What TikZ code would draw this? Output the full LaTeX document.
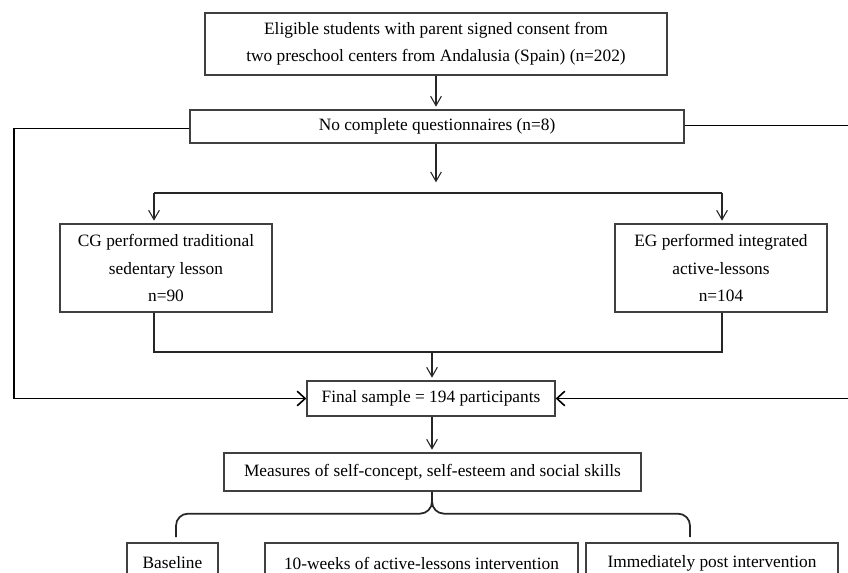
\documentclass[tikz,border=0pt]{standalone}
\usepackage{fontspec}
\setmainfont{Liberation Serif}
\usetikzlibrary{arrows.meta, positioning, calc}

\begin{document}
\begin{tikzpicture}[
    x=0.75pt, y=-0.75pt,
    flowbox/.style={rectangle, draw=black!75, line width=1pt, fill=white,
        align=center, inner sep=2pt, font=\fontsize{13pt}{20.5pt}\selectfont},
    arr/.style={-{Straight Barb[length=7pt, width=8pt]}, line width=0.8pt, draw=black!85, shorten >=2pt},
    link/.style={line width=1.2pt, draw=black!85},
    sidearr/.style={-{Straight Barb[length=6pt, width=11pt, line width=1.2pt]}, line width=1.4pt, draw=black},
    bracebar/.style={line width=1.3pt, draw=black!85, rounded corners=9pt},
]
\useasboundingbox (0,0) rectangle (848,573);
\clip (0,0) rectangle (848,573);

\node[flowbox, minimum width=346.5pt, minimum height=46.5pt] (elig) at (436,44)
    {Eligible students with parent signed consent from\\two preschool centers from Andalusia (Spain) (n=202)};
\node[flowbox, minimum width=370.5pt, minimum height=24.75pt] (nocomp) at (437,126.5)
    {No complete questionnaires (n=8)};
\node[flowbox, minimum width=159pt, minimum height=66pt] (cg) at (166,268)
    {CG performed traditional\\sedentary lesson\\n=90};
\node[flowbox, minimum width=159pt, minimum height=66pt] (eg) at (721,268)
    {EG performed integrated\\active-lessons\\n=104};
\node[flowbox, minimum width=186pt, minimum height=26.25pt] (final) at (431,398.5)
    {Final sample = 194 participants};
\node[flowbox, minimum width=312.75pt, minimum height=28.5pt] (meas) at (432.5,472)
    {Measures of self-concept, self-esteem and social skills};

\node[flowbox, minimum width=68.25pt, minimum height=30pt] (base) at (172.5,563) {Baseline};
\node[flowbox, minimum width=234.75pt, minimum height=30pt] (ten) at (421.5,563) {10-weeks of active-lessons intervention};
\node[flowbox, minimum width=189pt, minimum height=30pt] (post) at (712,563) {Immediately post intervention};

% split towards the two groups
\coordinate (split) at (436,185);
\coordinate (brl) at (154,193);
\coordinate (brr) at (722,193);
\coordinate (join) at (432,352);
\coordinate (lft) at (14,0);
\coordinate (rgt) at (854,0);

\draw[arr] (elig.south) -- (elig.south |- nocomp.north);
\draw[arr] (nocomp.south -| split) -- (split);
\draw[link] (brl) -- (brr);
\draw[arr] (brl) -- (brl |- cg.north);
\draw[arr] (brr) -- (brr |- eg.north);

\draw[link] (cg.south -| brl) |- (join) -| (eg.south -| brr);
\draw[arr] (join) -- (join |- final.north);

% excluded questionnaires go round the sides
\draw[sidearr] ($(nocomp.west)+(0,2)$) -| (lft |- final.west) -- (final.west);
\draw[sidearr] ($(nocomp.east)+(0,-1)$) -| (rgt |- final.east) -- (final.east);

\coordinate (down) at (final.south -| join);
\draw[arr] (down) -- (down |- meas.north);

% measurement moments
\coordinate (tip) at (meas.south -| join);
\coordinate (bl) at (176,537);
\coordinate (br) at (690,537);
\draw[bracebar] (bl) |- ($(tip)+(0,22)$) -- (tip);
\draw[bracebar] (br) |- ($(tip)+(0,22)$) -- (tip);
\end{tikzpicture}
\end{document}
